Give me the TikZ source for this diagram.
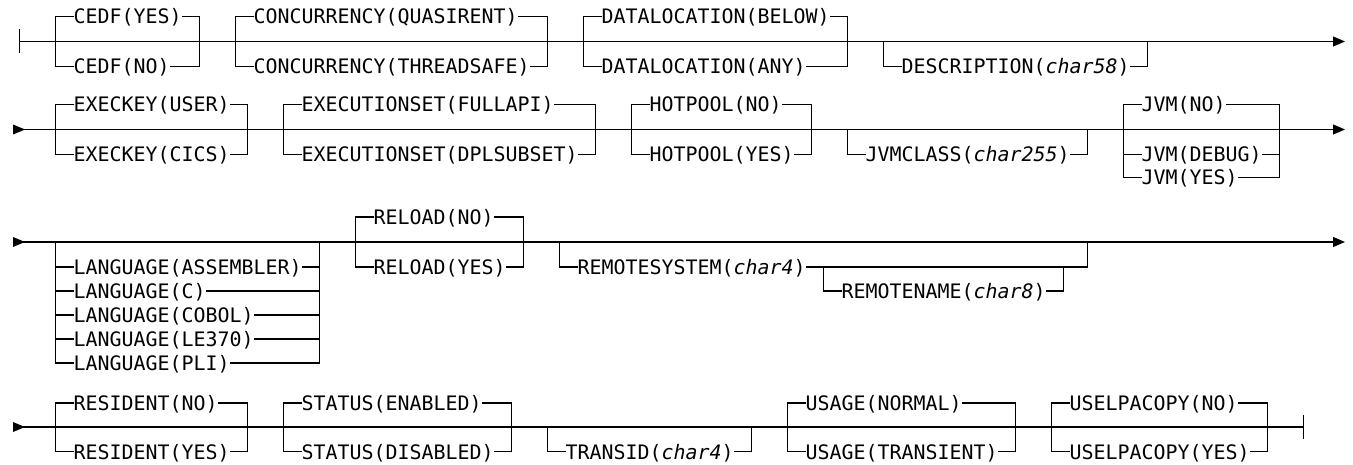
\documentclass[tikz,border=0pt]{standalone}
\usepackage{fontspec}
\setmonofont{DejaVu Sans Mono}[ItalicFont={DejaVu Sans Mono Oblique}]
\usepackage{tikz}
\usetikzlibrary{arrows.meta}
\tikzset{
	rail/.style={line width=1.2pt},
	kw/.style={anchor=west,inner sep=0pt,text height=15pt,text depth=0pt,
		font=\ttfamily\fontsize{19.93pt}{24pt}\selectfont},
}

\begin{document}
\begin{tikzpicture}[x=1pt,y=-1pt,>={Triangle[length=12pt,width=10pt]}]
	\fill[white] (0,0) rectangle (1353,465);
	\useasboundingbox (0,0) rectangle (1353,465);
	% main lines
	\draw[rail] (19.5,29.5) -- (19.5,53.5);
	\draw[rail,->] (19.5,41.5) -- (1345,41.5);
	\foreach \y in {129.5,242}{
		\fill (13,\y-5) -- (25,\y) -- (13,\y+5) -- cycle;
		\draw[rail,->] (13,\y) -- (1345,\y);}
	\fill (13,422) -- (25,427) -- (13,432) -- cycle;
	\draw[rail] (13,427) -- (1303.5,427);
	\draw[rail] (1303.5,415) -- (1303.5,439);
	% branches: name/left/right/main/branch/text
	\foreach \n/\l/\r/\m/\y/\t in {
		cedfy/55.5/199.5/41.5/16.5/CEDF(YES),
		cedfn/55.5/199.5/41.5/66.5/CEDF(NO),
		concq/235.5/547.5/41.5/16.5/CONCURRENCY(QUASIRENT),
		conct/235.5/547.5/41.5/66.5/CONCURRENCY(THREADSAFE),
		datab/583.5/847.5/41.5/16.5/DATALOCATION(BELOW),
		dataa/583.5/847.5/41.5/66.5/DATALOCATION(ANY),
		descr/883.5/1147.5/41.5/66.5/DESCRIPTION(\textit{char58}),
		execu/55.5/247.5/129.5/104.5/EXECKEY(USER),
		execc/55.5/247.5/129.5/154.5/EXECKEY(CICS),
		exsetf/283.5/595.5/129.5/104.5/EXECUTIONSET(FULLAPI),
		exsetd/283.5/595.5/129.5/154.5/EXECUTIONSET(DPLSUBSET),
		hotn/631.5/811.5/129.5/104.5/HOTPOOL(NO),
		hoty/631.5/811.5/129.5/154.5/HOTPOOL(YES),
		jvmcl/847.5/1087.5/129.5/154.5/JVMCLASS(\textit{char255}),
		jvmn/1123.5/1279.5/129.5/104.5/JVM(NO),
		jvmd/1123.5/1279.5/129.5/154.5/JVM(DEBUG),
		jvmy/1123.5/1279.5/129.5/177.5/JVM(YES),
		langa/55.5/319.5/242/267/LANGUAGE(ASSEMBLER),
		langc/55.5/319.5/242/291/LANGUAGE(C),
		langb/55.5/319.5/242/315/LANGUAGE(COBOL),
		langl/55.5/319.5/242/339/LANGUAGE(LE370),
		langp/55.5/319.5/242/363/LANGUAGE(PLI),
		reln/355.5/523.5/242/217/RELOAD(NO),
		rely/355.5/523.5/242/267/RELOAD(YES),
		rsys/559.5/1087.5/242/267/REMOTESYSTEM(\textit{char4}),
		rname/823.5/1063.5/267/291/REMOTENAME(\textit{char8}),
		resn/55.5/247.5/427/403/RESIDENT(NO),
		resy/55.5/247.5/427/451.5/RESIDENT(YES),
		stae/283.5/511.5/427/403/STATUS(ENABLED),
		stad/283.5/511.5/427/451.5/STATUS(DISABLED),
		trans/547.5/751.5/427/451.5/TRANSID(\textit{char4}),
		usgn/787.5/1015.5/427/403/USAGE(NORMAL),
		usgt/787.5/1015.5/427/451.5/USAGE(TRANSIENT),
		uselpn/1051.5/1267.5/427/403/USELPACOPY(NO),
		uselpy/1051.5/1267.5/427/451.5/USELPACOPY(YES)}{
		\node[kw] (\n) at (\l+18,\y) {\t};
		\draw[rail] (\l,\m) |- (\n.west);
		\draw[rail] (\n.east) -| (\r,\m);}
\end{tikzpicture}
\end{document}
